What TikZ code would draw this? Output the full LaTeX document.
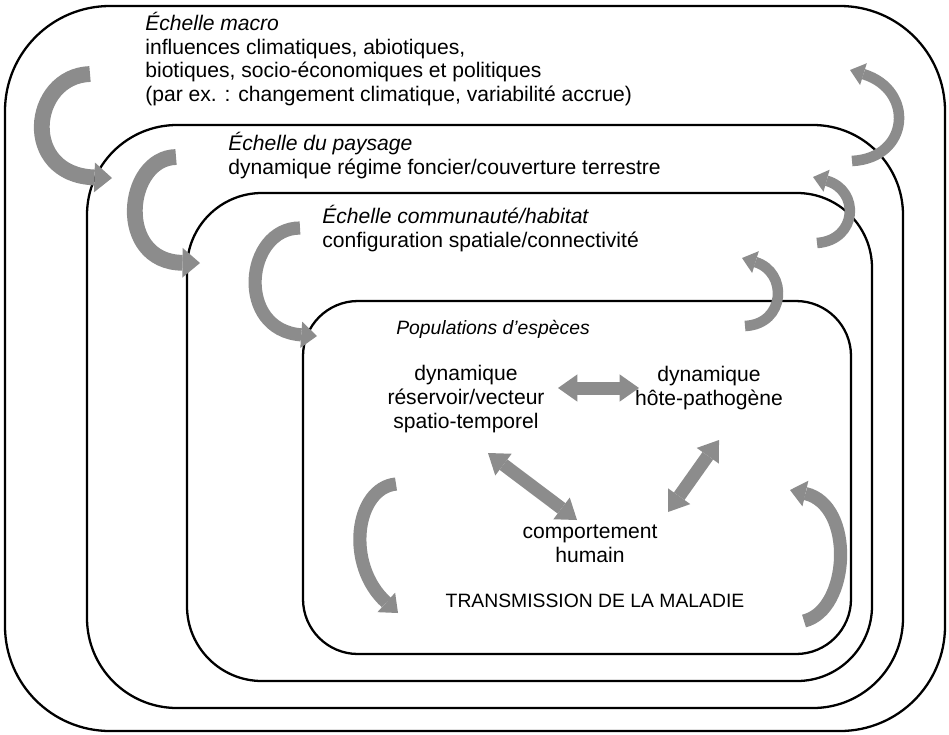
\documentclass[tikz,border=0pt]{standalone}
\usepackage{fontspec}
\setmainfont{Liberation Sans}
\usetikzlibrary{arrows.meta,positioning}

\begin{document}
\begin{tikzpicture}[x=0.02cm,y=-0.02cm,
    layer/.style={draw,line width=1.3pt},
    txt/.style={font=\fontsize{12}{13.4}\selectfont,inner sep=0pt,align=left,anchor=north west},
    mid/.style={font=\fontsize{12}{13.4}\selectfont,inner sep=0pt,align=center},
    bigflow/.style={draw=black!45,line width=9pt,-{Triangle[width=17pt,length=10pt,line width=0pt]}},
    midflow/.style={draw=black!45,line width=7.5pt,-{Triangle[width=15pt,length=9pt,line width=0pt]}},
    smallflow/.style={draw=black!45,line width=6pt,-{Triangle[width=13pt,length=8pt,line width=0pt]}},
    duo/.style={draw=black!45,line width=7.4pt,{Triangle[width=15.5pt,length=11pt,line width=0pt]}-{Triangle[width=15.5pt,length=11pt,line width=0pt]}}]
    \useasboundingbox (0,0) rectangle (949,734);
    % nested scales
    \draw[layer,rounded corners=2.1cm] (5,6) rectangle (945,731);
    \draw[layer,rounded corners=1.8cm] (87,125) rectangle (903,708);
    \draw[layer,rounded corners=1.5cm] (187,193) rectangle (872,681);
    \draw[layer,rounded corners=1.1cm] (303,301) rectangle (851,654);
    % downward influences
    \draw[bigflow] (90,74) .. controls (30,76) and (20,175) .. (112,178);
    \draw[bigflow] (176,157) .. controls (125,158) and (115,262) .. (200,263);
    \draw[midflow] (300,228) .. controls (245,228) and (235,330) .. (317,336);
    \draw[midflow] (396,484) .. controls (355,488) and (345,565) .. (398,613);
    % upward feedbacks
    \draw[midflow] (804,621) .. controls (850,610) and (855,505) .. (790,490);
    \draw[smallflow] (852,161) .. controls (910,158) and (915,90) .. (850,70);
    \draw[smallflow] (817,243) .. controls (858,240) and (860,190) .. (813,177);
    \draw[smallflow] (745,326) .. controls (786,324) and (788,272) .. (742,258);
    % texts
    \node[txt] at (145,12) (macro) {\textit{Échelle macro}\\influences climatiques, abiotiques,\\biotiques, socio-économiques et politiques\\(par ex. : changement climatique, variabilité accrue)};
    \node[txt] at (228,132) (paysage) {\textit{Échelle du paysage}\\dynamique régime foncier/couverture terrestre};
    \node[txt] at (322,205) (habitat) {\textit{Échelle communauté/habitat}\\configuration spatiale/connectivité};
    \node[txt,font=\fontsize{11}{13}\selectfont] at (396,320) (pop) {\textit{Populations d’espèces}};
    \node[mid] at (466,399) (res) {dynamique\\réservoir/vecteur\\spatio-temporel};
    \node[mid] at (709,388) (host) {dynamique\\hôte-pathogène};
    \node[mid] at (590,544) (comp) {comportement\\humain};
    \node[mid,font=\fontsize{11}{13}\selectfont] at (595,601) (trans) {TRANSMISSION DE LA MALADIE};
    % interactions
    \draw[duo] ([shift={(92,-11)}]res.center) -- ([shift={(-70,0)}]host.center);
    \draw[duo] ([shift={(22,54)}]res.center) -- ([shift={(-13,-24)}]comp.center);
    \draw[duo] ([shift={(78,-32)}]comp.center) -- ([shift={(10,52)}]host.center);
\end{tikzpicture}
\end{document}
